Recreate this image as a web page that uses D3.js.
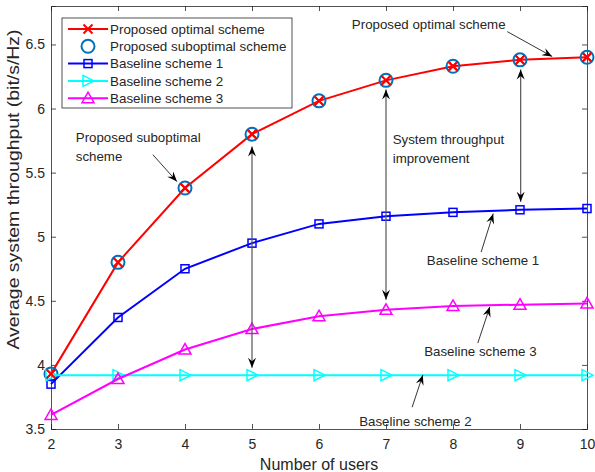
<!DOCTYPE html>
<html>
<head>
<meta charset="utf-8">
<script src="https://cdn.jsdelivr.net/npm/d3@7"></script>
<style>
  body { margin: 0; background: #fff; }
  text { font-family: "Liberation Sans", Arial, sans-serif; fill: #262626; }
</style>
</head>
<body>
<div id="the_chart"></div>
<script>
// number of users
var users = [2, 3, 4, 5, 6, 7, 8, 9, 10];

// average system throughput (bit/s/Hz)
var optimal = [3.93, 4.80, 5.38, 5.80, 6.06, 6.22, 6.33, 6.38, 6.40];
var suboptimal = [3.93, 4.80, 5.38, 5.80, 6.06, 6.22, 6.33, 6.38, 6.40];
var baseline1 = [3.85, 4.37, 4.75, 4.95, 5.10, 5.16, 5.19, 5.21, 5.22];
var baseline2 = [3.92, 3.92, 3.92, 3.92, 3.92, 3.92, 3.92, 3.92, 3.92];
var baseline3 = [3.61, 3.89, 4.12, 4.28, 4.38, 4.43, 4.46, 4.47, 4.48];

var xTicks = [2, 3, 4, 5, 6, 7, 8, 9, 10];
var yTicks = [3.5, 4, 4.5, 5, 5.5, 6, 6.5];

var seriesNames = ["Proposed optimal scheme", "Proposed suboptimal scheme",
    "Baseline scheme 1", "Baseline scheme 2", "Baseline scheme 3"];

// annotation texts, anchored in data units
var labels = [
    { x: 6.49, y: 6.656, lines: ["Proposed optimal scheme"] },
    { x: 2.37, y: 5.773, lines: ["Proposed suboptimal", "scheme"] },
    { x: 7.10, y: 5.758, lines: ["System throughput", "improvement"] },
    { x: 7.61, y: 4.812, lines: ["Baseline scheme 1"] },
    { x: 7.57, y: 4.109, lines: ["Baseline scheme 3"] },
    { x: 6.60, y: 3.562, lines: ["Baseline scheme 2"] }
];
// single arrows: from (x1,y1) to the head at (x2,y2)
var arrows = [
    { x1: 8.81, y1: 6.60, x2: 9.48, y2: 6.406 },
    { x1: 3.52, y1: 5.64, x2: 3.88, y2: 5.43 },
    { x1: 8.42, y1: 4.88, x2: 8.60, y2: 5.18 },
    { x1: 8.37, y1: 4.17, x2: 8.55, y2: 4.453 },
    { x1: 7.39, y1: 3.67, x2: 7.55, y2: 3.922 }
];
// double arrows showing the throughput gap
var gaps = [
    { x: 5, y1: 5.703, y2: 3.977 },
    { x: 7, y1: 6.148, y2: 4.508 },
    { x: 9.01, y1: 6.305, y2: 5.273 }
];

var w = 595;
var h = 472;
var padL = 51, padR = 587, padT = 6, padB = 429; // plot box edges

var svg = d3.select("#the_chart")
    .append("svg")
    .attr("width", w)
    .attr("height", h);

var xscale = d3.scaleLinear().domain([2, 10]).range([padL, padR]);
var yscale = d3.scaleLinear().domain([3.5, 6.8]).range([padB, padT]);

// axes with inward ticks on all four sides
svg.append("g")
    .attr("transform", "translate(0," + padB + ")")
    .call(d3.axisBottom(xscale).tickValues(xTicks).tickFormat(d3.format("d")).tickSize(-5).tickPadding(10));
svg.append("g")
    .attr("transform", "translate(0," + padT + ")")
    .call(d3.axisTop(xscale).tickValues(xTicks).tickFormat("").tickSize(-5));
svg.append("g")
    .attr("transform", "translate(" + padL + ",0)")
    .call(d3.axisLeft(yscale).tickValues(yTicks).tickFormat(d3.format("")).tickSize(-5).tickPadding(6));
svg.append("g")
    .attr("transform", "translate(" + padR + ",0)")
    .call(d3.axisRight(yscale).tickValues(yTicks).tickFormat("").tickSize(-5));

svg.selectAll(".domain").attr("stroke", "#262626").attr("stroke-width", 0.8);
svg.selectAll(".tick line").attr("stroke", "#262626").attr("stroke-width", 0.8);
svg.selectAll(".tick text").style("font-size", "14px").attr("fill", "#262626");

// axis titles
svg.append("text")
    .attr("x", (padL + padR) / 2)
    .attr("y", 470)
    .attr("text-anchor", "middle")
    .style("font-size", "16px")
    .text("Number of users");
svg.append("text")
    .attr("transform", "translate(19," + ((padT + padB) / 2 - 28) + ") rotate(-90)")
    .attr("text-anchor", "middle")
    .attr("textLength", 320)
    .attr("lengthAdjust", "spacingAndGlyphs")
    .style("font-size", "16px")
    .text("Average system throughput (bit/s/Hz)");

// marker drawing helpers
function markX(g, color) {
    g.append("path").attr("d", "M-4.5,-4.5L4.5,4.5M-4.5,4.5L4.5,-4.5")
        .attr("stroke", color).attr("stroke-width", 2).attr("fill", "none");
}
function markCircle(g, color) {
    g.append("circle").attr("r", 6.5)
        .attr("stroke", color).attr("stroke-width", 2).attr("fill", "none");
}
function markSquare(g, color) {
    g.append("rect").attr("x", -4).attr("y", -4).attr("width", 8).attr("height", 8)
        .attr("stroke", color).attr("stroke-width", 1.5).attr("fill", "none");
}
function markRight(g, color) {
    g.append("path").attr("d", "M-5,-5.5L6,0L-5,5.5Z")
        .attr("stroke", color).attr("stroke-width", 1.5).attr("fill", "none");
}
function markUp(g, color) {
    g.append("path").attr("d", "M0,-6L6,4.5L-6,4.5Z")
        .attr("stroke", color).attr("stroke-width", 1.5).attr("fill", "none");
}

var series = [
    { values: optimal, color: "#ff0000", line: true, marker: markX },
    { values: suboptimal, color: "#0072bd", line: false, marker: markCircle },
    { values: baseline1, color: "#0000ff", line: true, marker: markSquare },
    { values: baseline2, color: "#00ffff", line: true, marker: markRight },
    { values: baseline3, color: "#ff00ff", line: true, marker: markUp }
];

var line = d3.line()
    .x(function (d, i) { return xscale(users[i]); })
    .y(function (d) { return yscale(d); });

series.forEach(function (s) {
    if (s.line) {
        svg.append("path")
            .attr("d", line(s.values))
            .attr("fill", "none")
            .attr("stroke", s.color)
            .attr("stroke-width", 2);
    }
    s.values.forEach(function (v, i) {
        var g = svg.append("g")
            .attr("transform", "translate(" + xscale(users[i]) + "," + yscale(v) + ")");
        s.marker(g, s.color);
    });
});
// red crosses above the circles
optimal.forEach(function (v, i) {
    var g = svg.append("g")
        .attr("transform", "translate(" + xscale(users[i]) + "," + yscale(v) + ")");
    markX(g, "#ff0000");
});

// arrow head, tip at origin pointing along +x
function head(g, x, y, angle) {
    g.append("path")
        .attr("d", "M0,0L-10,-4L-6.5,0L-10,4Z")
        .attr("transform", "translate(" + x + "," + y + ") rotate(" + angle + ")")
        .attr("fill", "#000");
}

var ann = svg.append("g");

arrows.forEach(function (a) {
    var x1 = xscale(a.x1), y1 = yscale(a.y1), x2 = xscale(a.x2), y2 = yscale(a.y2);
    var ang = Math.atan2(y2 - y1, x2 - x1) * 180 / Math.PI;
    ann.append("line")
        .attr("x1", x1).attr("y1", y1).attr("x2", x2).attr("y2", y2)
        .attr("stroke", "#000").attr("stroke-width", 0.8);
    head(ann, x2, y2, ang);
});

gaps.forEach(function (a) {
    var x = xscale(a.x), y1 = yscale(a.y1), y2 = yscale(a.y2);
    ann.append("line")
        .attr("x1", x).attr("y1", y1).attr("x2", x).attr("y2", y2)
        .attr("stroke", "#555").attr("stroke-width", 1.2);
    head(ann, x, y1, -90);
    head(ann, x, y2, 90);
});

labels.forEach(function (l) {
    l.lines.forEach(function (t, j) {
        ann.append("text")
            .attr("x", xscale(l.x))
            .attr("y", yscale(l.y) + j * 18.5)
            .attr("dy", "0.35em")
            .style("font-size", "13.3px")
            .text(t);
    });
});

// legend box
var lg = svg.append("g").attr("transform", "translate(62,18)");
lg.append("rect")
    .attr("width", 230).attr("height", 90)
    .attr("fill", "#fff").attr("stroke", "#262626").attr("stroke-width", 0.8);

seriesNames.forEach(function (name, i) {
    var s = series[i];
    var y = 11 + i * 17.3;
    if (s.line) {
        lg.append("line")
            .attr("x1", 6).attr("x2", 46).attr("y1", y).attr("y2", y)
            .attr("stroke", s.color).attr("stroke-width", 2);
    }
    var g = lg.append("g").attr("transform", "translate(26," + y + ")");
    s.marker(g, s.color);
    lg.append("text")
        .attr("x", 48)
        .attr("y", y)
        .attr("dy", "0.35em")
        .style("font-size", "13.4px")
        .text(name);
});
</script>
</body>
</html>
